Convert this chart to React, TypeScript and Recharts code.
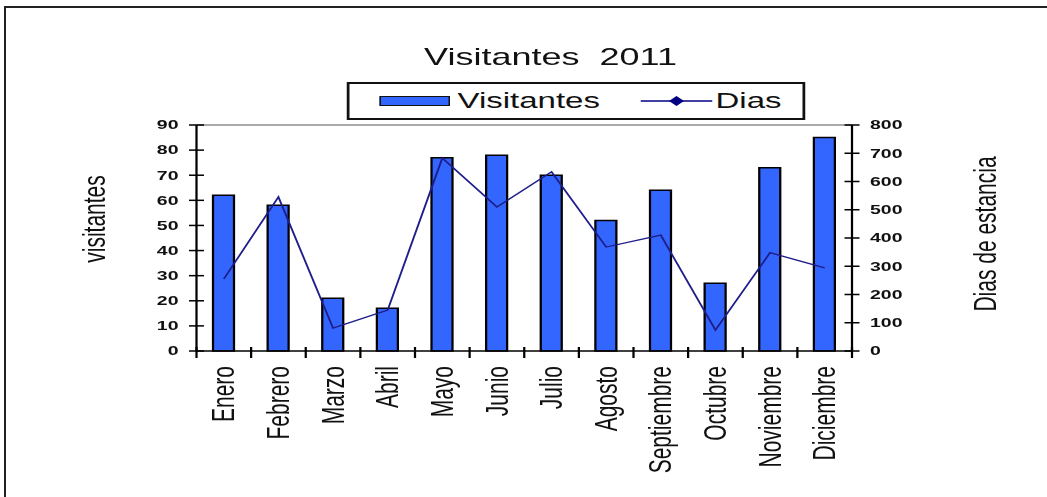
import React from "react";
import {
  Bar,
  ComposedChart,
  Label,
  Legend,
  Line,
  ReferenceLine,
  XAxis,
  YAxis,
} from "recharts";

const months = [
  "Enero",
  "Febrero",
  "Marzo",
  "Abril",
  "Mayo",
  "Junio",
  "Julio",
  "Agosto",
  "Septiembre",
  "Octubre",
  "Noviembre",
  "Diciembre",
];
const visitantes = [62, 58, 21, 17, 77, 78, 70, 52, 64, 27, 73, 85];
const dias = [255, 545, 81, 145, 683, 510, 634, 368, 410, 74, 348, 294];
const leftTicks = [0, 10, 20, 30, 40, 50, 60, 70, 80, 90];
const rightTicks = [0, 100, 200, 300, 400, 500, 600, 700, 800];

const data = months.map((mes, i) => ({
  mes,
  visitantes: visitantes[i],
  dias: dias[i],
}));

// the original picture is stretched sideways, so the chart is drawn narrow and scaled
const STRETCH = 1.5;
const W = 698;
const H = 497;
const FONT = "Arial, 'Liberation Sans', sans-serif";
const BLUE = "#3366ff";
const NAVY = "#1e1e8a";

const LeftTick = (props: any) => {
  const { x, y, payload } = props;
  const ax = x + 12;
  return (
    <g>
      <line x1={ax - 5} x2={ax + 5} y1={y} y2={y} stroke="#000" strokeWidth={1.5} />
      <text x={x} y={y} textAnchor="end" dominantBaseline="central" fontSize={13} fontWeight="bold" fontFamily={FONT} fill="#111">
        {payload.value}
      </text>
    </g>
  );
};

const RightTick = (props: any) => {
  const { x, y, payload } = props;
  const ax = x - 12;
  return (
    <g>
      <line x1={ax - 5} x2={ax + 5} y1={y} y2={y} stroke="#000" strokeWidth={1.5} />
      <text x={x} y={y} textAnchor="start" dominantBaseline="central" fontSize={13} fontWeight="bold" fontFamily={FONT} fill="#111">
        {payload.value}
      </text>
    </g>
  );
};

const MonthTick = (props: any) => {
  const { x, y, payload, index } = props;
  const ax = y - 15;
  const half = payload.offset || 18.2;
  return (
    <g>
      <line x1={x - half} x2={x - half} y1={ax - 4} y2={ax + 7} stroke="#000" strokeWidth={1.5} />
      {index === months.length - 1 && (
        <line x1={x + half} x2={x + half} y1={ax - 4} y2={ax + 7} stroke="#000" strokeWidth={1.5} />
      )}
      <text
        x={x}
        y={y}
        transform={`rotate(-90 ${x} ${y})`}
        textAnchor="end"
        dominantBaseline="central"
        fontSize={21}
        fontFamily={FONT}
        fill="#111"
      >
        {payload.value}
      </text>
    </g>
  );
};

const SideText = ({ x, y, text }: { x: number; y: number; text: string }) => (
  <text
    x={x}
    y={y}
    transform={`rotate(-90 ${x} ${y})`}
    textAnchor="middle"
    dominantBaseline="central"
    fontSize={21}
    fontFamily={FONT}
    fill="#111"
  >
    {text}
  </text>
);

const renderLegend = () => (
  <div
    style={{
      boxSizing: "border-box",
      width: 306,
      height: 38,
      border: "2px solid #111",
      background: "#fff",
      display: "flex",
      alignItems: "center",
      fontFamily: FONT,
      fontSize: 22,
      color: "#111",
      paddingLeft: 20,
    }}
  >
    <span
      style={{
        display: "inline-block",
        boxSizing: "border-box",
        width: 47,
        height: 10,
        background: BLUE,
        border: "1.5px solid #111",
        marginRight: 5,
      }}
    />
    <span>Visitantes</span>
    <svg width={48} height={14} style={{ marginLeft: 27, marginRight: 2 }}>
      <line x1={0} x2={48} y1={7} y2={7} stroke="#000080" strokeWidth={1.5} />
      <polygon points="24,2 29,7 24,12 19,7" fill="#000080" />
    </svg>
    <span>Dias</span>
  </div>
);

export default function App() {
  return (
    <div
      style={{
        position: "absolute",
        left: 0,
        top: 0,
        width: 1047,
        height: 497,
        overflow: "hidden",
        background: "#fff",
      }}
    >
      <div
        style={{
          position: "absolute",
          left: 4,
          top: 6,
          width: 1100,
          height: 600,
          border: "2px solid #222",
        }}
      />
      <div
        style={{
          position: "absolute",
          left: 0,
          top: 0,
          width: W,
          height: H,
          transform: `scaleX(${STRETCH})`,
          transformOrigin: "0 0",
        }}
      >
        <div
          style={{
            position: "absolute",
            left: 367 - 150,
            top: 45,
            width: 300,
            textAlign: "center",
            fontFamily: FONT,
            fontSize: 24,
            lineHeight: "24px",
            color: "#111",
            whiteSpace: "pre",
          }}
        >
          {"Visitantes  2011"}
        </div>
        <ComposedChart
          width={W}
          height={H}
          data={data}
          barSize={14}
          margin={{ top: 125, right: 70, bottom: 16, left: 71 }}
        >
          <XAxis
            dataKey="mes"
            height={130}
            interval={0}
            tickSize={6}
            tickMargin={9}
            tickLine={false}
            axisLine={{ stroke: "#000", strokeWidth: 1.5 }}
            tick={<MonthTick />}
          />
          <YAxis
            yAxisId="left"
            domain={[0, 90]}
            ticks={leftTicks}
            width={60}
            tickSize={5}
            tickMargin={7}
            tickLine={false}
            axisLine={{ stroke: "#000", strokeWidth: 1.5 }}
            tick={<LeftTick />}
          >
            <Label content={() => <SideText x={63} y={219} text="visitantes" />} />
          </YAxis>
          <YAxis
            yAxisId="right"
            orientation="right"
            domain={[0, 800]}
            ticks={rightTicks}
            width={60}
            tickSize={5}
            tickMargin={7}
            tickLine={false}
            axisLine={{ stroke: "#000", strokeWidth: 1.5 }}
            tick={<RightTick />}
          >
            <Label content={() => <SideText x={657} y={234} text="Dias de estancia" />} />
          </YAxis>
          <ReferenceLine yAxisId="left" y={90} stroke="#8c8c8c" strokeWidth={1.5} />
          <Legend
            content={renderLegend}
            layout="horizontal"
            verticalAlign="middle"
            align="center"
            wrapperStyle={{ left: 231, top: 82, width: 306, height: 38 }}
          />
          <Bar
            yAxisId="left"
            dataKey="visitantes"
            name="Visitantes"
            fill={BLUE}
            stroke="#000"
            strokeWidth={1.5}
            isAnimationActive={false}
          />
          <Line
            yAxisId="right"
            type="linear"
            dataKey="dias"
            name="Dias"
            stroke={NAVY}
            strokeWidth={1.3}
            dot={false}
            isAnimationActive={false}
          />
        </ComposedChart>
      </div>
    </div>
  );
}
